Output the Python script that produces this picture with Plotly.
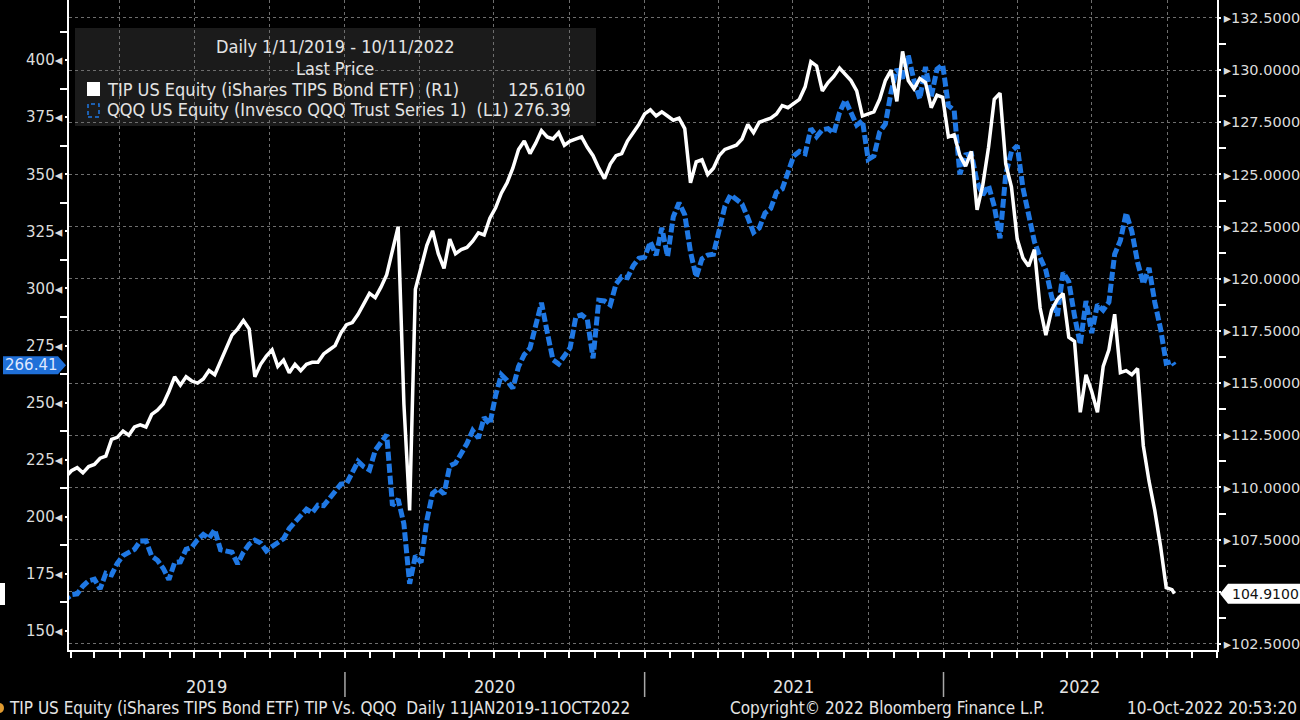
import pandas as pd
import plotly.graph_objects as go

# ---------------- data ----------------
# QQQ weekly closes (left axis, L1), Fridays
qqq_2019 = [160.5, 164.0, 163.8,
            165.9, 166.3, 169.7, 172.0,
            172.7, 168.4, 175.3, 174.6, 179.7,
            183.0, 184.7, 185.8, 189.4,
            189.5, 182.8, 181.0, 177.5, 172.5,
            180.0, 180.3, 185.8, 186.7,
            190.0, 192.3, 190.6, 194.4,
            185.6, 185.3, 184.5, 179.4, 184.5,
            188.0, 189.8, 188.6, 185.1,
            187.0, 188.6, 190.4, 194.9,
            197.7, 199.9, 203.3, 201.8, 205.1,
            204.9, 207.9, 210.9, 214.3]
qqq_2020 = [214.6, 219.0, 224.3, 221.9, 220.5,
            229.1, 233.0, 236.0, 205.0,
            207.7, 196.9, 170.7, 183.0,
            180.0, 198.5, 210.3, 212.3,
            210.0, 222.3, 223.5, 227.7, 232.1,
            237.8, 234.5, 243.5, 240.6,
            253.2, 262.2, 259.7, 256.3, 265.8,
            271.0, 273.9, 283.5, 293.7,
            280.9, 268.8, 266.9, 270.9,
            274.0, 287.6, 288.5, 286.4, 269.4,
            294.8, 294.5, 292.8, 301.9,
            305.1, 304.7, 309.9, 313.2]
qqq_2021 = [313.7, 320.4, 314.5, 326.6, 314.0,
            331.4, 337.5, 332.3, 316.0,
            305.0, 313.0, 314.6, 315.0,
            325.0, 336.0, 341.0, 339.0, 337.0,
            331.0, 324.5, 326.5, 333.0,
            335.0, 342.0, 343.5, 350.0,
            358.0, 360.0, 359.0, 370.0, 366.5,
            369.5, 370.0, 368.0, 377.0,
            382.5, 376.5, 371.5, 373.5,
            356.5, 358.0, 368.5, 372.0, 386.0,
            396.0, 392.0, 402.0, 391.0,
            383.0, 397.0, 384.0, 396.0, 397.9]
qqq_2022 = [380.0, 378.0, 350.0, 358.5,
            359.0, 346.5, 341.0, 345.0,
            336.0, 322.0, 350.0, 360.0,
            362.5, 344.0, 333.0, 320.5, 313.5,
            308.0, 296.5, 288.0, 307.0,
            303.0, 288.0, 275.5, 294.5,
            280.5, 293.0, 290.5, 294.0, 315.0,
            321.0, 333.0, 325.0, 311.5,
            302.0, 309.0, 294.0, 282.5, 267.3,
            268.0]

# TIP weekly closes (right axis, R1), Fridays
tip_2019 = [109.9, 110.2, 110.5,
            110.8, 110.95, 110.7, 111.0,
            111.1, 111.4, 111.5, 112.3, 112.4,
            112.7, 112.5, 112.9, 113.0,
            112.9, 113.5, 113.7, 114.0, 114.6,
            115.3, 114.9, 115.3, 115.1,
            115.0, 115.2, 115.6, 115.4,
            116.0, 116.6, 117.3, 117.6, 118.0,
            117.6, 115.3, 115.9, 116.3,
            116.6, 115.8, 116.1, 115.5,
            115.9, 115.6, 115.9, 116.0, 116.0,
            116.4, 116.6, 116.8, 117.4]
tip_2020 = [117.8, 117.9, 118.3, 118.8, 119.3,
            119.1, 119.6, 120.2, 121.3,
            122.5, 114.0, 108.9, 119.5,
            120.6, 121.6, 122.3, 121.2,
            120.5, 121.9, 121.2, 121.4, 121.5,
            121.8, 122.2, 122.1, 122.9,
            123.4, 124.1, 124.6, 125.3, 126.2,
            126.6, 126.0, 126.5, 127.1,
            126.8, 126.7, 127.0, 126.4,
            126.6, 126.7, 126.8, 126.3, 125.9,
            125.3, 124.8, 125.5, 125.9,
            126.0, 126.6, 127.0, 127.4]
tip_2021 = [127.9, 128.1, 127.8, 128.0, 127.8,
            127.6, 127.7, 127.2, 124.6,
            125.6, 125.7, 125.0, 125.3,
            125.9, 126.2, 126.3, 126.4, 126.7,
            127.4, 127.0, 127.5, 127.6,
            127.7, 127.9, 128.3, 128.2,
            128.4, 128.6, 129.2, 130.4, 130.2,
            129.0, 129.4, 129.7, 130.1,
            129.8, 129.5, 129.0, 127.8,
            127.9, 128.0, 128.6, 129.5, 130.0,
            128.5, 130.9, 129.5, 129.1,
            129.6, 129.4, 128.2, 128.8, 128.7]
tip_2022 = [126.8, 126.9, 125.9, 125.4,
            126.1, 123.3, 124.5, 126.3,
            128.6, 128.9, 125.5, 124.4,
            121.9, 121.0, 120.6, 121.4, 118.6,
            117.3, 118.5, 119.0, 119.3,
            117.2, 117.0, 113.6, 115.4,
            114.6, 113.6, 115.8, 116.6, 118.3,
            115.5, 115.6, 115.4, 115.7,
            112.0, 110.3, 108.9, 107.2, 105.2,
            105.1]

first_fridays = ["2019-01-11", "2020-01-03", "2021-01-01", "2022-01-07"]
last_date = "2022-10-10"
qqq_last = 266.41
tip_last = 104.91

qqq_ticks = [150, 175, 200, 225, 250, 275, 300, 325, 350, 375, 400]
tip_ticks = [102.5, 105.0, 107.5, 110.0, 112.5, 115.0, 117.5, 120.0,
             122.5, 125.0, 127.5, 130.0, 132.5]
year_labels = ["2019", "2020", "2021", "2022"]
year_label_dates = ["2019-07-16", "2020-07-02", "2021-07-02", "2022-06-16"]
year_breaks = ["2020-01-01", "2021-01-01", "2022-01-01"]

x_range = ["2019-01-29", "2022-12-01"]
qqq_range = [141.7, 426.3]
tip_range = [102.21, 133.36]

legend_title = "Daily 1/11/2019 - 10/11/2022"
legend_sub = "Last Price"
tip_name = "TIP US Equity (iShares TIPS Bond ETF)\u00a0\u00a0(R1)"
tip_legend_val = "125.6100"
qqq_name = "QQQ US Equity (Invesco QQQ Trust Series 1)\u00a0\u00a0(L1) 276.39"
footer_left = "TIP US Equity (iShares TIPS Bond ETF) TIP Vs. QQQ\u00a0\u00a0Daily 11JAN2019-11OCT2022"
footer_mid = "Copyright\u00a9 2022 Bloomberg Finance L.P."
footer_right = "10-Oct-2022 20:53:20"


def build(arrays):
    dates, vals = [], []
    for start, arr in zip(first_fridays, arrays):
        dates += list(pd.date_range(start, periods=len(arr), freq="7D"))
        vals += arr
    return dates, vals


qqq_dates, qqq_vals = build([qqq_2019, qqq_2020, qqq_2021, qqq_2022])
qqq_dates.append(pd.Timestamp(last_date)); qqq_vals.append(qqq_last)
tip_dates, tip_vals = build([tip_2019, tip_2020, tip_2021, tip_2022])
tip_dates.append(pd.Timestamp(last_date)); tip_vals.append(tip_last)

# ---------------- layout helpers ----------------
W, H = 1300, 720
L, R, T, B = 69, 83, 0, 70
PW, PH = W - L - R, H - T - B


def px(x):
    return (x - L) / PW


def py(y):
    return (T + PH - y) / PH


BLUE = "#1f78e4"
TXT = "#e4e4e4"
NARROW = "Liberation Sans Narrow, DejaVu Sans Condensed, Arial Narrow, sans-serif"
TICKF_L = dict(family="DejaVu Sans, Verdana, sans-serif", size=15, color="#dcdcdc")
TICKF_R = dict(family="DejaVu Sans, Verdana, sans-serif", size=14.5, color="#dcdcdc")

# the right-axis label hidden behind the last-value tag is left blank
tip_ticktext = ["" if abs(v - tip_last) < 1.25 else f"\u25b8{v:.4f}" for v in tip_ticks]

fig = go.Figure()
fig.add_trace(go.Scatter(x=qqq_dates, y=qqq_vals, yaxis="y", mode="lines",
                         line=dict(color=BLUE, width=5, dash="9px,3px"),
                         showlegend=False, hoverinfo="skip"))
fig.add_trace(go.Scatter(x=tip_dates, y=tip_vals, yaxis="y2", mode="lines",
                         line=dict(color="white", width=3.5),
                         showlegend=False, hoverinfo="skip"))

axis_common = dict(showline=True, linecolor="white", linewidth=1.5, zeroline=False,
                   ticks="outside", tickcolor="white", tickwidth=1.5, fixedrange=True)

fig.update_layout(
    width=W, height=H,
    margin=dict(l=L, r=R, t=T, b=B, autoexpand=False),
    paper_bgcolor="black", plot_bgcolor="rgba(0,0,0,0)",
    showlegend=False, hovermode=False,
    xaxis=dict(type="date", range=x_range, tick0="2019-01-01", dtick="M3",
               ticklen=6, showticklabels=False,
               showgrid=True, gridcolor="#6e6e6e", griddash="3px,3px", gridwidth=1,
               minor=dict(dtick="M1", tick0="2019-01-01", ticks="outside", ticklen=6,
                          tickcolor="white", tickwidth=1.5, showgrid=False),
               **axis_common),
    yaxis=dict(side="left", range=qqq_range, tickmode="array", tickvals=qqq_ticks,
               ticktext=[f"{v}\u25c2" for v in qqq_ticks], ticklen=2,
               tickfont=TICKF_L, showgrid=False,
               minor=dict(tickmode="linear", tick0=137.5, dtick=25, ticks="outside",
                          ticklen=7, tickcolor="white", tickwidth=1.5, showgrid=False),
               **axis_common),
    yaxis2=dict(side="right", overlaying="y", range=tip_range, tickmode="array",
                tickvals=tip_ticks, ticktext=tip_ticktext,
                ticklen=2, tickfont=TICKF_R,
                showgrid=True, gridcolor="#6e6e6e", griddash="3px,3px", gridwidth=1,
                minor=dict(tickmode="linear", tick0=103.75, dtick=2.5, ticks="outside",
                           ticklen=7, tickcolor="white", tickwidth=1.5, showgrid=False),
                **axis_common),
)

shapes = []
annos = []

# legend panel
shapes.append(dict(type="rect", xref="paper", yref="paper", layer="below",
                   x0=px(75), x1=px(596), y0=py(126), y1=py(28),
                   fillcolor="#1b1b1b", line=dict(width=0)))
shapes.append(dict(type="rect", xref="paper", yref="paper",
                   x0=px(87), x1=px(100), y0=py(96), y1=py(82),
                   fillcolor="white", line=dict(width=0)))
shapes.append(dict(type="rect", xref="paper", yref="paper",
                   x0=px(88), x1=px(99), y0=py(117), y1=py(104),
                   fillcolor="rgba(0,0,0,0)", line=dict(color=BLUE, width=1.5, dash="4px,3px")))


def text(s, x, y, xanchor="left", size=18, color=TXT, family=NARROW):
    annos.append(dict(text=s, xref="paper", yref="paper", x=px(x), y=py(y),
                      xanchor=xanchor, yanchor="middle", showarrow=False,
                      font=dict(family=family, size=size, color=color)))


text(legend_title, 335, 46, "center")
text(legend_sub, 335, 68, "center")
text(tip_name, 105, 89)
text(tip_legend_val, 587, 89, "right")
text(qqq_name, 105, 110)

# year labels and separators
for lab, d in zip(year_labels, year_label_dates):
    annos.append(dict(text=lab, xref="x", yref="paper", x=d, y=py(686),
                      xanchor="center", yanchor="middle", showarrow=False,
                      font=dict(family=NARROW, size=18, color=TXT)))
for d in year_breaks:
    shapes.append(dict(type="line", xref="x", yref="paper", x0=d, x1=d,
                       y0=py(672), y1=py(697), line=dict(color="#a8a8a8", width=1.5)))

# footer
text(footer_left, 7, 708, size=17)
text(footer_mid, 728, 708, size=17)
text(footer_right, 1299, 708, "right", size=17)
shapes.append(dict(type="circle", xref="paper", yref="paper",
                   x0=px(-5), x1=px(4), y0=py(713), y1=py(703),
                   fillcolor="#e09a30", line=dict(width=0)))
# cut-off marker on the far left
shapes.append(dict(type="rect", xref="paper", yref="paper",
                   x0=px(0), x1=px(5), y0=py(605), y1=py(583),
                   fillcolor="white", line=dict(width=0)))


# last-value tags
def frac(v, rng):
    return (v - rng[0]) / (rng[1] - rng[0])


yq = frac(qqq_last, qqq_range)
h = 9 / PH
shapes.append(dict(type="path", xref="paper", yref="paper", layer="above",
                   path=(f"M {px(3)},{yq - h} L {px(58)},{yq - h} L {px(66)},{yq} "
                         f"L {px(58)},{yq + h} L {px(3)},{yq + h} Z"),
                   fillcolor="#1f6fd8", line=dict(width=0)))
annos.append(dict(text=f"{qqq_last:.2f}", xref="paper", yref="paper", x=px(31), y=yq,
                  xanchor="center", yanchor="middle", showarrow=False,
                  font=dict(family="DejaVu Sans, sans-serif", size=15, color="#dfe8ff")))

yt = frac(tip_last, tip_range)
h2 = 10 / PH
shapes.append(dict(type="path", xref="paper", yref="paper", layer="above",
                   path=(f"M {px(1220)},{yt} L {px(1228)},{yt + h2} L {px(1300)},{yt + h2} "
                         f"L {px(1300)},{yt - h2} L {px(1228)},{yt - h2} Z"),
                   fillcolor="white", line=dict(width=0)))
annos.append(dict(text=f"{tip_last:.4f}", xref="paper", yref="paper", x=px(1230), y=yt,
                  xanchor="left", yanchor="middle", showarrow=False,
                  font=dict(family="DejaVu Sans, sans-serif", size=14, color="#111111")))

fig.update_layout(shapes=shapes, annotations=annos)
fig.write_html("out.html", config={"displayModeBar": False},
               post_script="document.body.style.margin='0';document.body.style.overflow='hidden';")
